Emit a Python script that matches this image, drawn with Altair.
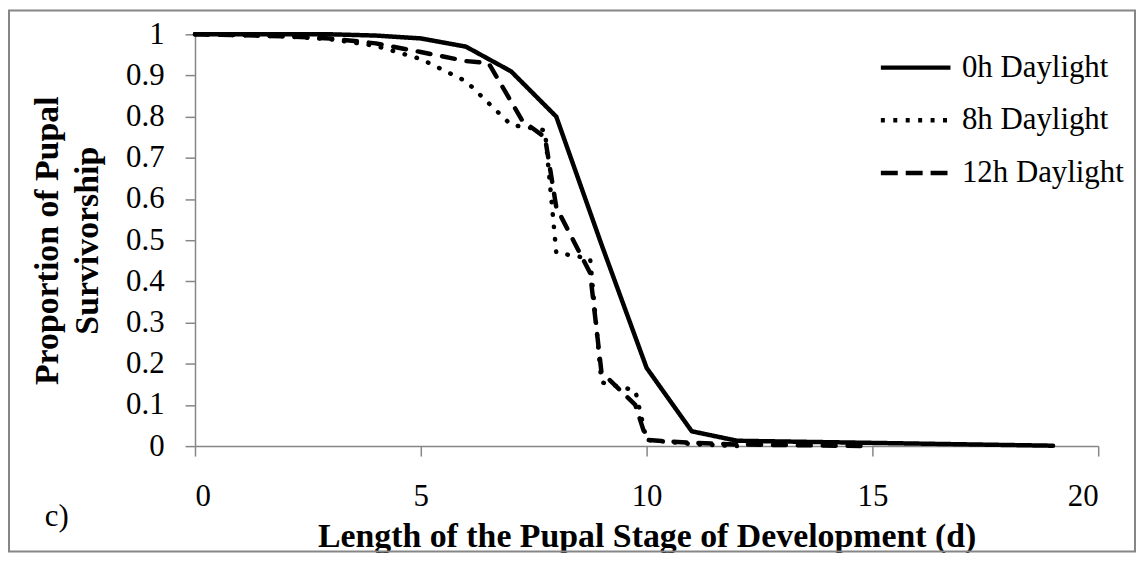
import altair as alt
import pandas as pd

series_names = ["0h Daylight", "8h Daylight", "12h Daylight"]

days_0h = [0, 1, 2, 3, 4, 5, 6, 7, 8, 9, 10, 11, 12, 19]
surv_0h = [1.0, 1.0, 1.0, 1.0, 0.997, 0.99, 0.97, 0.91, 0.80, 0.49, 0.19, 0.036, 0.013, 0.001]

days_8h = [0, 1, 2, 3, 4, 5, 6, 7, 7.75, 8, 8.75, 9, 9.75, 10, 11, 12]
surv_8h = [1.0, 0.998, 0.995, 0.988, 0.972, 0.94, 0.886, 0.78, 0.767, 0.47, 0.455, 0.155, 0.135, 0.015, 0.005, 0.0]

days_12h = [0, 1, 2, 3, 4, 5, 6, 6.5, 7.25, 7.75, 8, 8.75, 9, 9.75, 10, 11, 12, 15]
surv_12h = [1.0, 0.998, 0.995, 0.99, 0.978, 0.957, 0.935, 0.93, 0.79, 0.75, 0.58, 0.42, 0.18, 0.10, 0.015, 0.008, 0.004, 0.0]

x_ticks = [0, 5, 10, 15, 20]
y_ticks = [0, 0.1, 0.2, 0.3, 0.4, 0.5, 0.6, 0.7, 0.8, 0.9, 1.0]

frames = []
for name, d, s in [(series_names[0], days_0h, surv_0h),
                   (series_names[1], days_8h, surv_8h),
                   (series_names[2], days_12h, surv_12h)]:
    frames.append(pd.DataFrame({"day": d, "surv": s, "series": name}))
df = pd.concat(frames, ignore_index=True)

SERIF = "Liberation Serif"
AX = "#868686"

# dash patterns drawn on the lines (round caps) and in the legend (butt caps)
line_dash = {series_names[0]: [1, 0], series_names[1]: [0.5, 12], series_names[2]: [13, 12]}
legend_dash = [[1, 0], [4, 8.5], [17, 8]]

x_enc = alt.X("day:Q",
              scale=alt.Scale(domain=[0, 20], nice=False, zero=True),
              axis=alt.Axis(values=x_ticks, title="Length of the Pupal Stage of Development (d)",
                            tickSize=10, labelPadding=26, titleY=91, titleBaseline="middle"))
y_enc = alt.Y("surv:Q",
              scale=alt.Scale(domain=[0, 1], nice=False),
              axis=alt.Axis(values=y_ticks, format=".1~f",
                            title=["Proportion of Pupal", "Survivorship"],
                            tickSize=10, labelPadding=21,
                            titleX=-148, titleY=207, titleAngle=-90,
                            titleAlign="center", titleBaseline="middle",
                            titleLineHeight=40))

layers = []
for name in [series_names[1], series_names[2], series_names[0]]:
    layers.append(
        alt.Chart(df).transform_filter(alt.datum.series == name)
        .mark_line(color="black", strokeWidth=4.5, strokeCap="round", strokeJoin="round",
                   strokeDash=line_dash[name])
        .encode(x=x_enc, y=y_enc, order="day:Q")
    )

# invisible layer carrying the legend
legend_layer = alt.Chart(df).mark_line(strokeWidth=0, opacity=0, color="black").encode(
    x="day:Q", y="surv:Q",
    strokeDash=alt.StrokeDash("series:N",
                              scale=alt.Scale(domain=series_names, range=legend_dash),
                              legend=alt.Legend(title=None, orient="none", legendX=687, legendY=-4,
                                                symbolType="stroke", symbolSize=4900,
                                                symbolStrokeWidth=4.5, symbolStrokeColor="black",
                                                symbolOpacity=1,
                                                labelFont=SERIF, labelFontSize=31, labelLimit=0,
                                                labelOffset=9, rowPadding=-18)))

one = pd.DataFrame({"k": [0]})
label_c = alt.Chart(one).mark_text(text="c)", font=SERIF, fontSize=31, color="black",
                                    align="center", baseline="middle").encode(
    x=alt.value(-139), y=alt.value(485))
border = alt.Chart(one).mark_rect(fill=None, stroke=AX, strokeWidth=2).encode(
    x=alt.value(-187), x2=alt.value(945), y=alt.value(-24), y2=alt.value(520))

chart = alt.layer(border, legend_layer, *layers, label_c).properties(
    width=908, height=414,
    autosize=alt.AutoSizeParams(type="none"),
    padding={"left": 188, "top": 25, "right": 38, "bottom": 106},
).configure_view(stroke=None).configure_axis(
    grid=False, domainColor=AX, domainWidth=1.5, tickColor=AX, tickWidth=1.5,
    labelFont=SERIF, labelFontSize=31, labelColor="black",
    titleFont=SERIF, titleFontSize=34, titleFontWeight="bold", titleColor="black",
).configure_axisY(labelAlign="right", labelBaseline="middle")

chart.save("out.html", embed_options={"renderer": "svg", "actions": False})
